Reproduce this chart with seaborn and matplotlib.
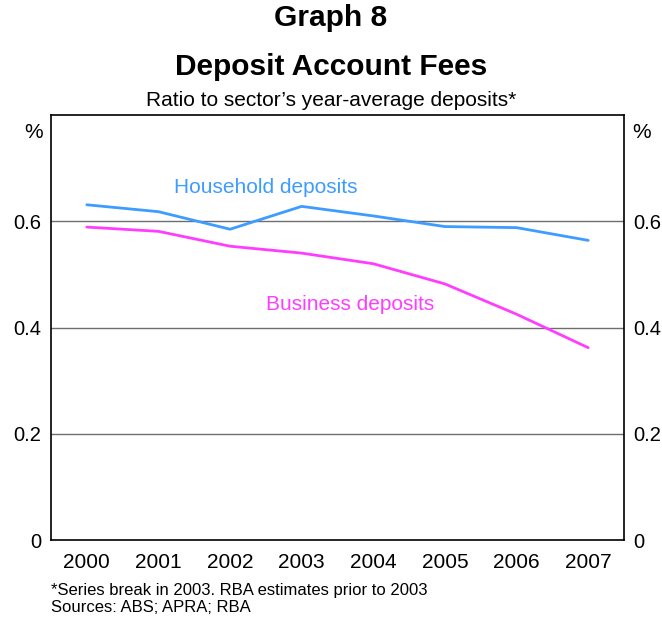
import matplotlib
matplotlib.use("Agg")
import matplotlib.pyplot as plt
import seaborn as sns
import pandas as pd
import numpy as np

years = [2000, 2001, 2002, 2003, 2004, 2005, 2006, 2007]
household = [0.631, 0.618, 0.585, 0.628, 0.610, 0.590, 0.588, 0.564]
business = [0.589, 0.581, 0.553, 0.540, 0.520, 0.482, 0.425, 0.362]
yticks = [0, 0.2, 0.4, 0.6]
ytick_labels = ["0", "0.2", "0.4", "0.6"]

sns.set_style("white")
plt.rcParams['font.family'] = ['Liberation Sans', 'DejaVu Sans']
plt.rcParams['text.color'] = 'black'
plt.rcParams['xtick.color'] = 'black'
plt.rcParams['ytick.color'] = 'black'

df = pd.DataFrame({
    "year": years * 2,
    "value": household + business,
    "series": ["Household deposits"] * len(years) + ["Business deposits"] * len(years),
})

colors = {"Household deposits": "#3d9cff", "Business deposits": "#ff3dff"}

fig = plt.figure(figsize=(6.62, 6.19), dpi=100)
ax = fig.add_axes([51/662, 79/619, 573/662, 425/619])

sns.lineplot(data=df, x="year", y="value", hue="series", palette=colors,
             linewidth=2, ax=ax, legend=False)

ax.set_xlim(1999.5, 2007.5)
ax.set_ylim(0, 0.8)
for y in [0.2, 0.4, 0.6]:
    ax.axhline(y, color="#6e6e6e", linewidth=1.0, zorder=0)

ax.set_xticks(years)
ax.set_xticklabels([str(y) for y in years], fontsize=15)
ax.set_xticks(np.arange(2000.5, 2007.0, 1.0), minor=True)
ax.tick_params(axis="x", which="major", length=0, pad=9)
ax.tick_params(axis="x", which="minor", direction="in", length=6, width=1, color="black")

ax.set_yticks(yticks)
ax.set_yticklabels(ytick_labels, fontsize=14.5)
ax.tick_params(axis="y", length=0, pad=7, labelright=True, right=False)
ax.set_xlabel("")
ax.set_ylabel("")

for s in ax.spines.values():
    s.set_color("black")
    s.set_linewidth(1.2)

ax.text(2002.5, 0.664, "Household deposits", color=colors["Household deposits"],
        fontsize=15, ha="center", va="center")
ax.text(2003.68, 0.443, "Business deposits", color=colors["Business deposits"],
        fontsize=15, ha="center", va="center")

fig.text(34/662, 1 - 132/619, "%", fontsize=15, ha="center", va="center")
fig.text(642/662, 1 - 132/619, "%", fontsize=15, ha="center", va="center")

fig.text(0.5, 1 - 18/619, "Graph 8", fontsize=21.5, fontweight="bold", ha="center", va="center")
fig.text(0.5, 1 - 67/619, "Deposit Account Fees", fontsize=21.5, fontweight="bold", ha="center", va="center")
fig.text(0.5, 1 - 101/619, "Ratio to sector\u2019s year-average deposits*", fontsize=15, ha="center", va="center")

fig.text(51/662, 1 - 591/619, "*Series break in 2003. RBA estimates prior to 2003", fontsize=12, ha="left", va="center")
fig.text(51/662, 1 - 608/619, "Sources: ABS; APRA; RBA", fontsize=12, ha="left", va="center")

fig.savefig("out.png", dpi=100)
